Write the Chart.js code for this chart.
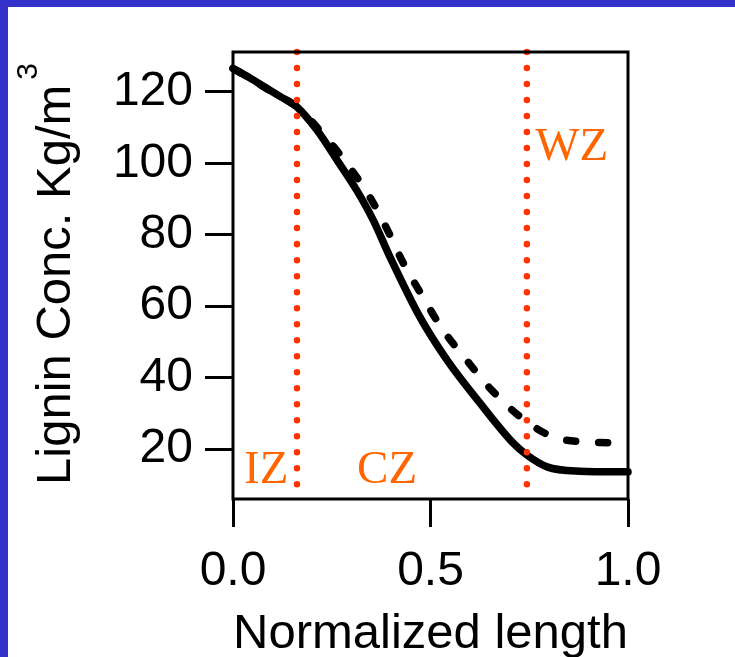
<!DOCTYPE html>
<html>
<head>
<meta charset="utf-8">
<script src="https://cdn.jsdelivr.net/npm/chart.js"></script>
<style>
    html, body { margin: 0; padding: 0; background: #3333CC; width: 735px; height: 657px; overflow: hidden; }
    #panel { position: absolute; left: 8px; top: 7px; width: 727px; height: 650px; background: #ffffff; }
</style>
</head>
<body>
<div id="panel"><canvas id="ligninChart" width="727" height="650"></canvas></div>
<script>
// normalized length / lignin concentration (solid curve)
let solidX = [0, 0.04, 0.08, 0.12, 0.161, 0.212, 0.263, 0.313, 0.355, 0.397, 0.473, 0.542, 0.625, 0.709, 0.744, 0.795, 0.878, 1.0];
let solidY = [126.6, 124.1, 121.4, 118.7, 115.9, 109.4, 101.0, 92.5, 84.1, 73.9, 57.0, 44.9, 32.9, 21.7, 18.3, 15.0, 13.8, 13.6];

// dashed curve
let dashX = [0, 0.045, 0.089, 0.125, 0.161, 0.237, 0.300, 0.351, 0.393, 0.431, 0.478, 0.528, 0.587, 0.655, 0.731, 0.810, 0.891, 1.0];
let dashY = [126.6, 123.7, 120.7, 118.4, 115.9, 107.0, 98.2, 89.7, 80.9, 72.1, 63.1, 53.9, 45.5, 36.5, 28.7, 23.4, 22.0, 21.7];

// zone boundaries and zone names
let zoneBounds = [0.162, 0.744];
let zoneNames = ['IZ', 'CZ', 'WZ'];
let zoneNameX = [0.028, 0.314, 0.765];
let zoneNameY = [10.5, 10.5, 101];

// axes
let xTicks = [0, 0.5, 1.0];
let yTicks = [20, 40, 60, 80, 100, 120];
let xMin = 0, xMax = 1.0;
let yMin = 6, yMax = 131.2;
let boundTop = 131.2, boundBottom = 10;

let xTitle = 'Normalized length';
let yTitle = 'Lignin Conc. Kg/m';
let yTitleSup = '3';

let sansFont = '"Liberation Sans", Arial, sans-serif';
let serifFont = '"Liberation Serif", "Times New Roman", serif';

function toPoints(xs, ys) {
    return xs.map(function(x, i) { return { x: x, y: ys[i] }; });
}

let datasets = [];

// red dotted zone lines (drawn on top)
zoneBounds.forEach(function(b) {
    datasets.push({
        data: [{ x: b, y: boundTop }, { x: b, y: boundBottom }],
        borderColor: '#FF3300',
        borderWidth: 6.5,
        borderDash: [0.01, 16],
        borderCapStyle: 'round',
        pointRadius: 0,
        order: 0,
        clip: false
    });
});

datasets.push({
    data: toPoints(solidX, solidY),
    borderColor: '#000000',
    borderWidth: 7.5,
    borderCapStyle: 'round',
    cubicInterpolationMode: 'monotone',
    pointRadius: 0,
    order: 1,
    clip: false
});

datasets.push({
    data: toPoints(dashX, dashY),
    borderColor: '#000000',
    borderWidth: 7.5,
    borderDash: [9, 23],
    borderCapStyle: 'round',
    cubicInterpolationMode: 'monotone',
    pointRadius: 0,
    order: 2,
    clip: false
});

// frame, zone names and axis titles
let decorPlugin = {
    id: 'decor',
    afterDatasetsDraw: function(chart) {
        let ctx = chart.ctx;
        let area = chart.chartArea;
        let xs = chart.scales.x;
        let ys = chart.scales.y;

        ctx.save();
        ctx.strokeStyle = '#000000';
        ctx.lineWidth = 3;
        ctx.strokeRect(area.left, area.top, area.right - area.left, area.bottom - area.top);

        ctx.fillStyle = '#FF6600';
        ctx.font = '47px ' + serifFont;
        ctx.textAlign = 'left';
        ctx.textBaseline = 'alphabetic';
        zoneNames.forEach(function(name, i) {
            ctx.fillText(name, xs.getPixelForValue(zoneNameX[i]), ys.getPixelForValue(zoneNameY[i]));
        });

        ctx.fillStyle = '#000000';
        ctx.font = '49px ' + sansFont;
        ctx.textAlign = 'center';
        ctx.fillText(xTitle, (area.left + area.right) / 2, 641);

        ctx.translate(62, 478);
        ctx.rotate(-Math.PI / 2);
        ctx.textAlign = 'left';
        ctx.fillText(yTitle, 0, 0);
        let w = ctx.measureText(yTitle).width;
        ctx.font = '30px ' + sansFont;
        ctx.fillText(yTitleSup, w + 5, -33);
        ctx.restore();
    }
};

let ctx = document.getElementById('ligninChart').getContext('2d');
let ligninChart = new Chart(ctx, {
    type: 'line',
    data: { datasets: datasets },
    plugins: [decorPlugin],
    options: {
        responsive: false,
        animation: false,
        devicePixelRatio: 1,
        layout: { padding: { left: 0, top: 45, right: 107, bottom: 0 } },
        plugins: {
            legend: { display: false },
            tooltip: { enabled: false }
        },
        scales: {
            x: {
                type: 'linear',
                min: xMin,
                max: xMax,
                afterBuildTicks: function(scale) {
                    scale.ticks = xTicks.map(function(v) { return { value: v }; });
                },
                afterFit: function(scale) { scale.height = 158; },
                border: { display: false },
                grid: {
                    drawOnChartArea: false,
                    drawTicks: true,
                    tickLength: 28,
                    tickWidth: 3,
                    tickColor: '#000000'
                },
                ticks: {
                    autoSkip: false,
                    maxRotation: 0,
                    padding: 16,
                    color: '#000000',
                    font: { family: sansFont, size: 48 },
                    callback: function(v) { return Number(v).toFixed(1); }
                }
            },
            y: {
                type: 'linear',
                min: yMin,
                max: yMax,
                afterBuildTicks: function(scale) {
                    scale.ticks = yTicks.map(function(v) { return { value: v }; });
                },
                afterFit: function(scale) { scale.width = 225; },
                border: { display: false },
                grid: {
                    drawOnChartArea: false,
                    drawTicks: true,
                    tickLength: 28,
                    tickWidth: 3,
                    tickColor: '#000000'
                },
                ticks: {
                    autoSkip: false,
                    padding: 12,
                    color: '#000000',
                    font: { family: sansFont, size: 48 },
                    callback: function(v) { return v; }
                }
            }
        }
    }
});
</script>
</body>
</html>
